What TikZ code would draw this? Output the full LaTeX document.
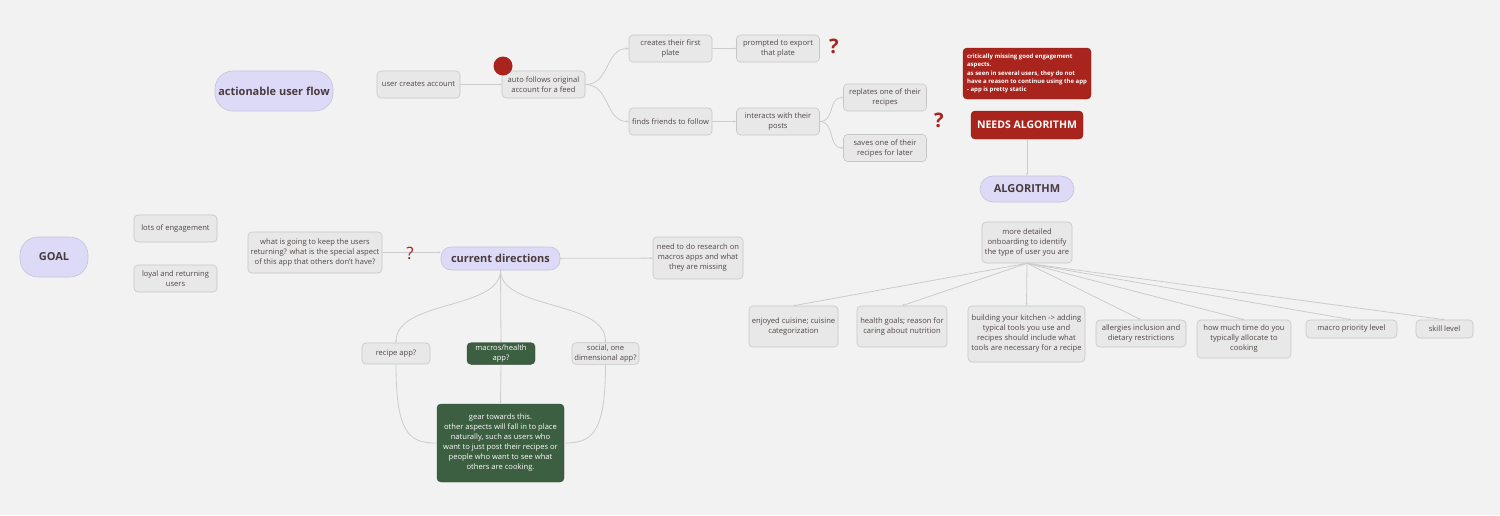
\documentclass[tikz,border=0pt]{standalone}
\usepackage{fontspec}
\setmainfont{Open Sans}
\usetikzlibrary{arrows.meta}

\definecolor{bgcol}{HTML}{F2F2F2}
\definecolor{boxfill}{HTML}{E8E8E8}
\definecolor{boxline}{HTML}{C6C6C6}
\definecolor{txtcol}{HTML}{524646}
\definecolor{titlecol}{HTML}{4A3C3C}
\definecolor{lavfill}{HTML}{DDDAF8}
\definecolor{lavline}{HTML}{C4C2DA}
\definecolor{alertred}{HTML}{A8241D}
\definecolor{darkgreen}{HTML}{3C5E41}
\definecolor{linkcol}{HTML}{CCCCCC}

\tikzset{
    topic/.style={draw=boxline, fill=boxfill, rounded corners=4pt, align=center,
        text=txtcol, font=\fontsize{7.6}{10}\selectfont, inner sep=2pt,
        minimum width=83pt, minimum height=27pt, line width=0.6pt},
    central/.style={draw=lavline, fill=lavfill, rounded corners=13pt, align=center,
        text=titlecol, font=\fontsize{11}{13}\selectfont\bfseries, inner sep=2pt,
        line width=0.6pt},
    redbox/.style={fill=alertred, draw=alertred!80!black, rounded corners=4pt,
        text=white, inner sep=2pt},
    greenbox/.style={fill=darkgreen, draw=darkgreen!80!black, rounded corners=4pt,
        text=white, align=center, font=\fontsize{7.6}{10}\selectfont, inner sep=2pt},
    qmark/.style={text=alertred, font=\fontsize{20}{20}\selectfont\bfseries},
    link/.style={draw=linkcol, line width=0.8pt, -{Stealth[length=2.5pt,width=2pt]}},
    plain/.style={draw=linkcol, line width=0.8pt},
}

\begin{document}
\begin{tikzpicture}[x=1pt, y=-1pt]
    \fill[bgcol] (0,0) rectangle (1500,515);
    \useasboundingbox (0,0) rectangle (1500,515);

    % user flow
    \node[central, minimum width=118pt, minimum height=40pt, rounded corners=18pt] (flow) at (274,91) {actionable user flow};
    \node[topic] (account) at (418.5,84.5) {user creates account};
    \node[topic] (autofollow) at (543.5,84.5) {auto follows original\\account for a feed};
    \fill[alertred] (503,66) circle (9.5pt);
    \node[topic] (firstplate) at (670.5,48.5) {creates their first\\plate};
    \node[topic] (export) at (778,48.5) {prompted to export\\that plate};
    \node[qmark] (qexport) at (834,46) {?};
    \node[topic] (friends) at (670.5,121.5) {finds friends to follow};
    \node[topic] (interact) at (778,121.5) {interacts with their\\posts};
    \node[topic] (replate) at (885,97.5) {replates one of their\\recipes};
    \node[topic] (saves) at (885,148) {saves one of their\\recipes for later};
    \node[qmark] (qposts) at (939,120) {?};

    \draw[link] (account) -- (autofollow);
    \draw[link] (autofollow.east) .. controls (610,84.5) and (605,48.5) .. (firstplate.west);
    \draw[link] (autofollow.east) .. controls (610,84.5) and (605,121.5) .. (friends.west);
    \draw[link] (firstplate) -- (export);
    \draw[link] (friends) -- (interact);
    \draw[link] (interact.east) .. controls (835,121.5) and (828,97.5) .. (replate.west);
    \draw[link] (interact.east) .. controls (835,121.5) and (828,148) .. (saves.west);

    % algorithm
    \node[redbox, minimum width=128pt, minimum height=51pt, align=left,
        font=\fontsize{6}{8.3}\selectfont\bfseries] (missing) at (1027,73.5)
        {critically missing good engagement\\aspects.\\as seen in several users, they do not\\have a reason to continue using the app\\- app is pretty static};
    \node[redbox, minimum width=112pt, minimum height=28pt,
        font=\fontsize{10.5}{12}\selectfont\bfseries] (needs) at (1027,125) {NEEDS ALGORITHM};
    \node[central, minimum width=94pt, minimum height=26pt] (algo) at (1027,189) {ALGORITHM};
    \draw[link] (needs) -- (algo);

    \node[topic, minimum width=90pt, minimum height=41pt] (onboard) at (1027,242.5) {more detailed\\onboarding to identify\\the type of user you are};
    \node[topic, minimum width=89pt, minimum height=41pt] (cuisine) at (793.5,326.5) {enjoyed cuisine; cuisine\\categorization};
    \node[topic, minimum width=90pt, minimum height=41pt] (health) at (902,326.5) {health goals; reason for\\caring about nutrition};
    \node[topic, minimum width=117pt, minimum height=56pt] (kitchen) at (1026.5,334) {building your kitchen -> adding\\typical tools you use and\\recipes should include what\\tools are necessary for a recipe};
    \node[topic, minimum width=90pt] (allergy) at (1141,333.5) {allergies inclusion and\\dietary restrictions};
    \node[topic, minimum width=94pt, minimum height=38pt] (timespent) at (1244,339) {how much time do you\\typically allocate to\\cooking};
    \node[topic, minimum width=91pt, minimum height=18pt] (macroprio) at (1351.5,329) {macro priority level};
    \node[topic, minimum width=57pt, minimum height=18pt] (skill) at (1444.5,329) {skill level};

    \foreach \kid in {cuisine, health, kitchen, allergy, timespent, macroprio, skill}
        \draw[link] (onboard.south) -- (\kid.north);

    % goal
    \node[central, minimum width=68pt, minimum height=40pt, rounded corners=18pt] (goal) at (54,257) {GOAL};
    \node[topic] (engage) at (175.5,228.5) {lots of engagement};
    \node[topic] (loyal) at (175.5,278.5) {loyal and returning\\users};

    % directions
    \node[topic, minimum width=134pt, minimum height=41pt] (keep) at (315,252.5) {what is going to keep the users\\returning? what is the special aspect\\of this app that others don't have?};
    \node[central, minimum width=119pt, minimum height=23pt, rounded corners=10pt] (current) at (500.5,258.5) {current directions};
    \node[topic, minimum width=90pt, minimum height=42pt] (research) at (698,258) {need to do research on\\macros apps and what\\they are missing};
    \draw[link] (keep.east) -- (current.west |- keep.east);
    \node[text=alertred, font=\fontsize{17}{17}\selectfont] (qkeep) at (410,253) {?};
    \draw[link] (current) -- (research);

    \node[topic, minimum width=68pt, minimum height=21pt] (recipe) at (396,353.5) {recipe app?};
    \node[greenbox, minimum width=68pt, minimum height=21pt] (macros) at (501,353.5) {macros/health\\app?};
    \node[topic, minimum width=67pt, minimum height=21pt] (social) at (605.5,353.5) {social, one\\dimensional app?};
    \node[greenbox, minimum width=127pt, minimum height=78pt] (gear) at (500.5,443)
        {gear towards this.\\other aspects will fall in to place\\naturally, such as users who\\want to just post their recipes or\\people who want to see what\\others are cooking.};

    \draw[link] (current.south) .. controls (500.5,310) and (396,300) .. (recipe.north);
    \draw[link] (current.south) -- (macros.north);
    \draw[link] (current.south) .. controls (500.5,310) and (605.5,300) .. (social.north);
    \draw[plain] (recipe.south) .. controls (396,435) and (410,443) .. (gear.west);
    \draw[link] (macros.south) -- (gear.north);
    \draw[plain] (social.south) .. controls (605.5,435) and (591,443) .. (gear.east);
\end{tikzpicture}
\end{document}
